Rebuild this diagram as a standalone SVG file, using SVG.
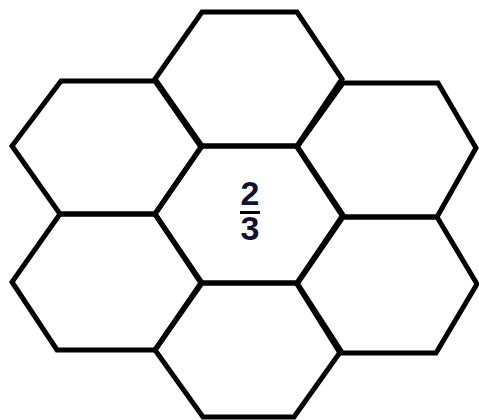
<svg xmlns="http://www.w3.org/2000/svg" width="479" height="420" viewBox="0 0 479 420">
  <style>
    .hex { fill: none; stroke: #000; stroke-width: 5; stroke-linejoin: miter; }
    .num { font-family: "Liberation Sans", Arial, sans-serif; font-weight: bold; font-size: 34px; fill: #111133; text-anchor: middle; }
  </style>
  <rect width="479" height="420" fill="#fff"/>
  <g id="hex-top"><polygon class="hex" points="202,12 297,12 342,79 297,146 202,146 155,79"/></g>
  <g id="hex-left-upper"><polygon class="hex" points="61,81 155,81 201,147 155,214 60,214 12,146"/></g>
  <g id="hex-right-upper"><polygon class="hex" points="343,83 438,83 476,148 437,217 343,217 297,147"/></g>
  <g id="hex-center">
    <polygon class="hex" points="202,146 297,146 343,215 297,283 202,283 155,214"/>
    <text class="num" x="250" y="205">2</text>
    <rect x="240" y="211" width="20" height="3" fill="#000"/>
    <text class="num" x="250" y="240">3</text>
  </g>
  <g id="hex-left-lower"><polygon class="hex" points="60,214 155,214 201,283 155,350 57,350 12,282"/></g>
  <g id="hex-right-lower"><polygon class="hex" points="343,217 437,217 477,284 436,353 340,353 297,284"/></g>
  <g id="hex-bottom"><polygon class="hex" points="202,283 297,283 341,351 294,417 203,417 155,350"/></g>
  <g id="connectors"></g>
</svg>
